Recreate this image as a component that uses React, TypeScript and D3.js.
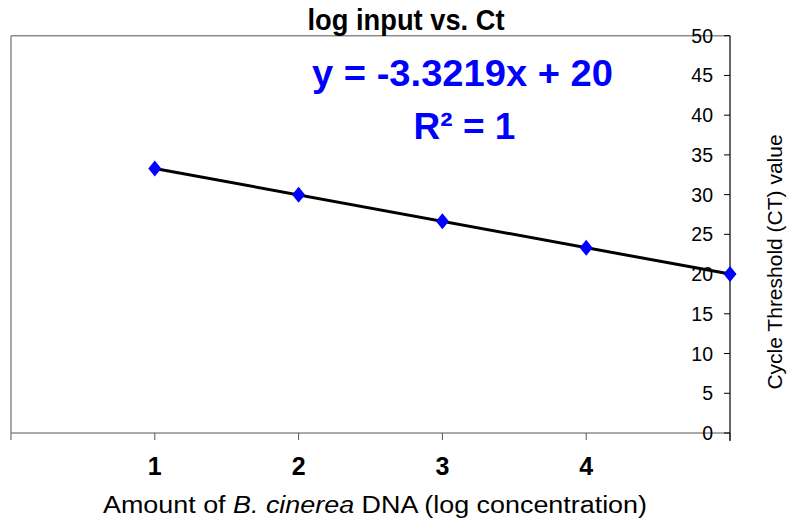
import React from "react";
import * as d3 from "d3";

const xValues = [1, 2, 3, 4, 5];
const ctValues = [33.29, 29.97, 26.64, 23.32, 20.0];
const xTickLabels = ["1", "2", "3", "4"];
const yTicks = [0, 5, 10, 15, 20, 25, 30, 35, 40, 45, 50];
const titleText = "log input vs. Ct";
const equationText = "y = -3.3219x + 20";
const rSquaredText = "R² = 1";
const yAxisTitle = "Cycle Threshold (CT) value";

const W = 787;
const H = 521;
const left = 11;
const right = 730;
const top = 35.7;
const bottom = 433;

export default function App() {
  const x = d3.scaleLinear().domain([0, 5]).range([left, right]);
  const y = d3.scaleLinear().domain([0, 50]).range([bottom, top]);
  const pts = xValues.map((v, i) => [x(v), y(ctValues[i])] as [number, number]);
  const line = d3.line()([pts[0], pts[pts.length - 1]]) || "";
  const font = "'Liberation Sans', Arial, sans-serif";
  const diamond = (cx: number, cy: number) =>
    `M${cx},${cy - 8} L${cx + 6.5},${cy} L${cx},${cy + 8} L${cx - 6.5},${cy} Z`;

  return (
    <svg
      width={W}
      height={H}
      style={{ position: "absolute", left: 0, top: 0, background: "#fff" }}
      fontFamily={font}
    >
      {/* plot frame */}
      <line x1={left} y1={top} x2={right} y2={top} stroke="#8c8c8c" strokeWidth={1.5} />
      <line x1={left} y1={top} x2={left} y2={bottom} stroke="#8c8c8c" strokeWidth={1.5} />
      <line x1={left} y1={bottom} x2={right} y2={bottom} stroke="#8c8c8c" strokeWidth={1.5} />

      {/* x ticks */}
      {[0, 1, 2, 3, 4, 5].map((t) => (
        <line key={"xt" + t} x1={x(t)} y1={bottom} x2={x(t)} y2={bottom + 7} stroke="#555" strokeWidth={1} />
      ))}
      {xTickLabels.map((lab, i) => (
        <text
          key={"xl" + lab}
          x={x(i + 1)}
          y={475}
          textAnchor="middle"
          fontSize={25}
          fontWeight="bold"
          fill="#000"
        >
          {lab}
        </text>
      ))}

      {/* right y axis */}
      <line x1={right} y1={top} x2={right} y2={bottom + 8} stroke="#000" strokeWidth={1.2} />
      {yTicks.map((t) => (
        <g key={"yt" + t}>
          <line x1={right - 6} y1={y(t)} x2={right} y2={y(t)} stroke="#000" strokeWidth={1} />
          <text x={713} y={y(t) + 7} textAnchor="end" fontSize={19.5} fill="#000">
            {t}
          </text>
        </g>
      ))}

      {/* trendline */}
      <path d={line} stroke="#000" strokeWidth={3} fill="none" />

      {/* markers */}
      {pts.map(([cx, cy], i) => (
        <path key={"m" + i} d={diamond(cx, cy)} fill="#0000ff" />
      ))}

      {/* title */}
      <text
        x={406}
        y={30}
        textAnchor="middle"
        fontSize={29}
        fontWeight="bold"
        textLength={197}
        lengthAdjust="spacingAndGlyphs"
        fill="#000"
      >
        {titleText}
      </text>

      {/* equation */}
      <text
        x={462.5}
        y={86}
        textAnchor="middle"
        fontSize={36}
        fontWeight="bold"
        textLength={301}
        lengthAdjust="spacingAndGlyphs"
        fill="#0000ff"
      >
        {equationText}
      </text>
      <text x={464.5} y={139} textAnchor="middle" fontSize={37} fontWeight="bold" fill="#0000ff">
        {rSquaredText}
      </text>

      {/* y axis title */}
      <text
        transform={`translate(782, 262) rotate(-90)`}
        textAnchor="middle"
        fontSize={21}
        fill="#000"
      >
        {yAxisTitle}
      </text>

      {/* x axis title */}
      <text
        x={375}
        y={513}
        textAnchor="middle"
        fontSize={23.5}
        textLength={544}
        lengthAdjust="spacingAndGlyphs"
        fill="#000"
      >
        Amount of <tspan fontStyle="italic">B. cinerea</tspan> DNA (log concentration)
      </text>
    </svg>
  );
}
